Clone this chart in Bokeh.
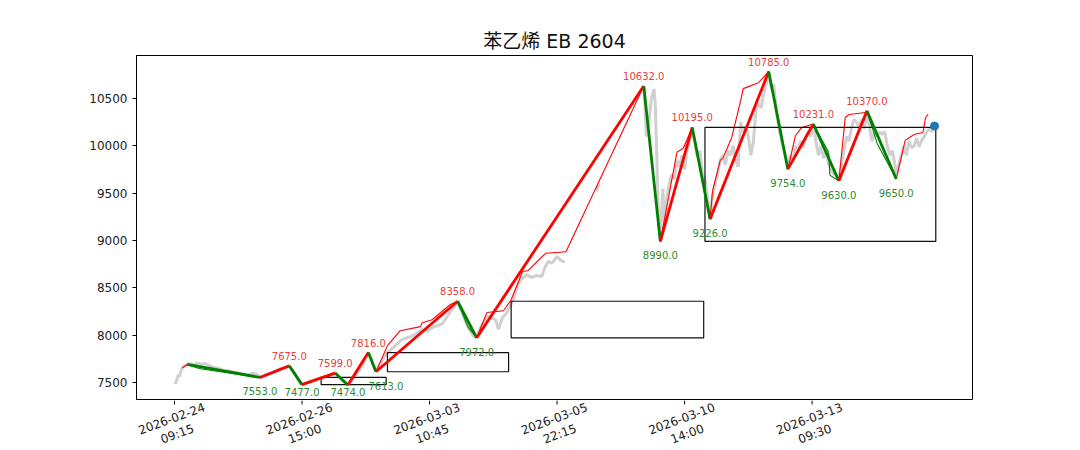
from bokeh.plotting import figure
from bokeh.models import Range1d, FixedTicker, ColumnDataSource, LabelSet
from bokeh.layouts import column
from bokeh.core.properties import value
from bokeh.embed import file_html
from bokeh.resources import INLINE

NaN = float("nan")

title_text = "苯乙烯 EB 2604"

tick_idx = [0, 100, 200, 300, 400, 500]
tick_labels = ["2026-02-24\n09:15", "2026-02-26\n15:00", "2026-03-03\n10:45",
               "2026-03-05\n22:15", "2026-03-10\n14:00", "2026-03-13\n09:30"]

# gray price trace (bar index, close); NaN = bars with no visible range
price_idx = [0, 1, 2, 3, 4, 5, 6, 8, 10, 12, 15, 18, 21, 24, 27, 30, 34, 38, 42, 46, 50, 54, 58, 61, 64, 66, 67,
             70, 73, 76, 79, 82, 85, 88, 90, 93, 96, 98, 100, 104, 108, 112, 116, 120, 123, 126, 129, 132, 134, 136,
             139, 142, 145, 148, 150, 152, 154, 156, 158, 161, 164, 167, 170, 174, 178, 182, 186, 190, 194, 198, 202,
             206, 210, 214, 217, 220, 222, 225, 228, 231, 234, 237, 240, 243, 246, 249, 252, 254, 257, 260, 263, 266,
             268, 270, 273, 276, 280, 284, 288, 290, 293, 296, 300, 303, 306, 318, 329, 331, 333, 350,
             366, 368, 369, 370, 372, 374, 376, 377, 378, 379, 380, 381, 382, 383, 384, 386, 388, 390, 392, 394, 396,
             398, 400, 402, 404, 406, 408, 410, 412, 414, 416, 418, 420, 422, 424, 426, 428, 430, 432, 434, 436, 438,
             440, 442, 444, 446, 448, 450, 452, 454, 456, 458, 460, 462, 464, 466, 468, 470, 472, 474, 476, 478, 480,
             481, 483, 485, 487, 489, 491, 493, 495, 497, 499, 501, 503, 505, 507, 509, 511, 513, 515, 517, 519, 521,
             523, 525, 527, 529, 531, 533, 535, 537, 539, 541, 543, 545, 547, 549, 551, 553, 555, 557, 559, 561, 563,
             565, 566, 568, 570, 572, 574, 576, 578, 580, 582, 584, 586, 588, 590, 592, 594, 596]
price_close = [7510, 7490, 7540, 7580, 7560, 7620, 7650, 7670, 7690, 7700, 7680, 7705, 7690, 7700, 7680, 7660, 7650,
               7630, 7625, 7610, 7600, 7590, 7575, 7600, 7590, 7570, 7555,
               7570, 7590, 7600, 7620, 7640, 7650, 7665, 7675, 7620, 7560, 7500, 7480, 7500, 7520, 7540, 7555, 7570,
               7585, 7595, 7560, 7510, 7490, 7478,
               7520, 7580, 7630, 7700, 7760, 7810, 7760, 7680, 7620, 7680, 7760, 7820, 7850, 7900, 7950, 7970, 7990,
               8020, 8060, 8040, 8080,
               8100, 8120, 8200, 8260, 8310, 8350, 8260, 8150, 8060, 8000, 7975, 8080, 8150, 8200, 8180, 8160, 8060,
               8180, 8230, 8300, 8380,
               8480, 8560, 8600, 8640, 8610, 8630, 8620, 8700, 8780, 8760, 8830, 8790, 8770, NaN, NaN, 9520, 9600, NaN,
               NaN, 10630, 10400, 10100, 10250, 10500, 10600, 10450, 10000, 9500, 9150, 8995, 9300, 9550, 9200,
               9450, 9600, 9700, 9650, 9850, 9780,
               9900, 9750, 9950, 10050, 10180, 10050, 9880, 9950, 9700, 9650, 9450, 9230, 9480, 9600, 9700, 9850,
               9900, 9800, 9950, 9900, 10000,
               9850, 9780, 10250, 10150, 10200, 10100, 9900, 10050, 10380, 10450, 10400, 10550, 10650, 10760, 10600,
               10650, 10350, 10200, 10050, 9950, 9850,
               9760, 9900, 9850, 10000, 9950, 10050, 9980, 10100, 10150, 10100, 10220, 10050, 9900, 10000, 9870, 9950,
               9800, 9750, 9700, 9680, 9640,
               9800, 9950, 10100, 10050, 10200, 10280, 10250, 10200, 10280, 10180, 10350, 10200, 10050, 10150, 10100,
               10150, 10120, 10150, 10000, 9900, 9950,
               9800, 9680, 9800, 9900, 10000, 9900, 10050, 9980, 10000, 10080, 9990, 10060, 10100, 10150, 10180,
               10150, 10210]

# higher-level strokes (thick)
bi_idx = [10, 67, 90, 100, 126, 136, 152, 158, 222, 237, 368, 381, 406, 420, 466, 481, 501, 521, 543, 566]
bi_val = [7690, 7553, 7675, 7477, 7599, 7474, 7816, 7613, 8358, 7972, 10632, 8990, 10195, 9226, 10785, 9754,
          10231, 9630, 10370, 9650]

# lower-level strokes (thin)
sub_idx = [6, 10, 19, 67, 90, 100, 126, 136, 152, 158, 167, 177, 193, 194, 202, 216, 222, 230, 237, 245, 258,
           264, 273, 277, 291, 307, 368, 381, 394, 399, 406, 420, 422, 428, 430, 435, 437, 444, 446, 458, 466,
           481, 487, 492, 501, 513, 514, 521, 526, 529, 542, 543, 551, 566, 573, 580, 587, 589, 591]
sub_val = [7655, 7690, 7647, 7553, 7675, 7477, 7599, 7474, 7816, 7613, 7889, 8047, 8090, 8128, 8163, 8321, 8358,
           8090, 7972, 8240, 8258, 8374, 8672, 8680, 8865, 8882, 10632, 8990, 9932, 9974, 10195, 9226, 9530, 9847,
           9868, 10026, 10090, 10479, 10605, 10668, 10785, 9754, 10110, 10195, 10231, 9932, 9689, 9630, 10300,
           10332, 10353, 10370, 10026, 9650, 10058, 10121, 10142, 10300, 10332]

# pivot zones
zone_start = [115, 167, 264, 416]
zone_end = [166, 262, 415, 597]
zone_low = [7477, 7613, 7972, 8990]
zone_high = [7553, 7816, 8358, 10195]

# labelled turning points
label_idx = bi_idx[1:]
label_val = bi_val[1:]

RED = "#ff0000"
GREEN = "#008000"
FONT = "DejaVu Sans"

# layout constants
W = 1072
B_LEFT, B_RIGHT, B_TOP = 136, 100, 55
FRAME_H = 344
H1 = B_TOP + FRAME_H + 1
H2 = 48
Y0, Y1 = 7320, 10955
UPP = (Y1 - Y0) / FRAME_H          # price units per pixel
y2_top = Y0 - 1 * UPP
y2_bot = y2_top - H2 * UPP

x_rng = Range1d(-29.8, 625.8)

p = figure(width=W, height=H1, output_backend="svg", toolbar_location=None,
           x_range=x_rng, y_range=Range1d(Y0, Y1),
           min_border_left=B_LEFT, min_border_right=B_RIGHT, min_border_top=B_TOP, min_border_bottom=1)
p.background_fill_color = "white"
p.border_fill_color = "white"
p.outline_line_color = "black"
p.outline_line_width = 1
p.xgrid.visible = False
p.ygrid.visible = False
p.xaxis.visible = False

p.title.text = title_text
p.title.align = "center"
p.title.text_font = FONT + ", Noto Sans CJK SC"
p.title.text_font_size = "19px"
p.title.text_font_style = "normal"
p.title.text_color = "#111111"
p.title.standoff = 7

ax = p.yaxis[0]
ax.major_label_text_font = FONT
ax.major_label_text_font_size = "12px"
ax.major_label_text_color = "#222222"
ax.axis_line_color = "black"
ax.major_tick_line_color = "black"
ax.major_tick_in = 0
ax.major_tick_out = 4
ax.minor_tick_line_color = None
ax.ticker = FixedTicker(ticks=[7500, 8000, 8500, 9000, 9500, 10000, 10500])

# gray price
p.line(price_idx, price_close, line_color="#d0d0d0", line_width=3)

# thin strokes
sx0, sy0, sx1, sy1, sc = [], [], [], [], []
for i in range(len(sub_idx) - 1):
    sx0.append(sub_idx[i]); sy0.append(sub_val[i])
    sx1.append(sub_idx[i + 1]); sy1.append(sub_val[i + 1])
    sc.append(RED if sub_val[i + 1] > sub_val[i] else GREEN)
p.segment(x0=sx0, y0=sy0, x1=sx1, y1=sy1, line_color=sc, line_width=1.1)

# zones
p.quad(left=zone_start, right=zone_end, bottom=zone_low, top=zone_high,
       fill_alpha=0, line_color="#111111", line_width=1.2)

# thick strokes
bx0, by0, bx1, by1, bc = [], [], [], [], []
for i in range(len(bi_idx) - 1):
    bx0.append(bi_idx[i]); by0.append(bi_val[i])
    bx1.append(bi_idx[i + 1]); by1.append(bi_val[i + 1])
    bc.append(RED if bi_val[i + 1] > bi_val[i] else GREEN)
p.segment(x0=bx0, y0=by0, x1=bx1, y1=by1, line_color=bc, line_width=2.8)

# last price dot
p.scatter([price_idx[-1]], [price_close[-1]], size=8, fill_color="#1f77b4", line_color="#1f77b4")

# labels
is_high = []
for i in label_idx:
    pos = bi_idx.index(i)
    is_high.append(bi_val[pos] > bi_val[pos - 1])
xoff = [10 if v == 7613 else 0 for v in label_val]
yoff = [10 if h else (-7 if v < 7500 else -14) for h, v in zip(is_high, label_val)]
cols = ["#e8403a" if h else "#2e8b2e" for h in is_high]
src = ColumnDataSource(dict(x=label_idx, y=label_val, t=["%.1f" % v for v in label_val],
                            xo=xoff, yo=yoff, c=cols))
p.add_layout(LabelSet(x="x", y="y", text="t", source=src, x_offset="xo", y_offset="yo",
                      text_color="c", text_font=value(FONT), text_font_size=value("10px"),
                      text_align="center", text_baseline="middle"))

# strip below the frame: x ticks and tick labels
p2 = figure(width=W, height=H2, output_backend="svg", toolbar_location=None,
            x_range=x_rng, y_range=Range1d(y2_bot, y2_top),
            min_border_left=B_LEFT, min_border_right=B_RIGHT, min_border_top=0, min_border_bottom=0)
p2.title.visible = False
p2.axis.visible = False
p2.grid.visible = False
p2.outline_line_color = None
p2.background_fill_color = "white"
p2.border_fill_color = "white"

p2.segment(x0=tick_idx, y0=[y2_top] * len(tick_idx), x1=tick_idx, y1=[y2_top - 4 * UPP] * len(tick_idx),
           line_color="black", line_width=1)
p2.text(x=tick_idx, y=[y2_top] * len(tick_idx), text=tick_labels, angle=0.35,
        text_align="center", text_baseline="middle", y_offset=26,
        text_font=value(FONT), text_font_size=value("12px"), text_color="#222222",
        text_line_height=1.15)

layout = column(p, p2, spacing=0)
open("out.html", "w").write(file_html(layout, INLINE))
